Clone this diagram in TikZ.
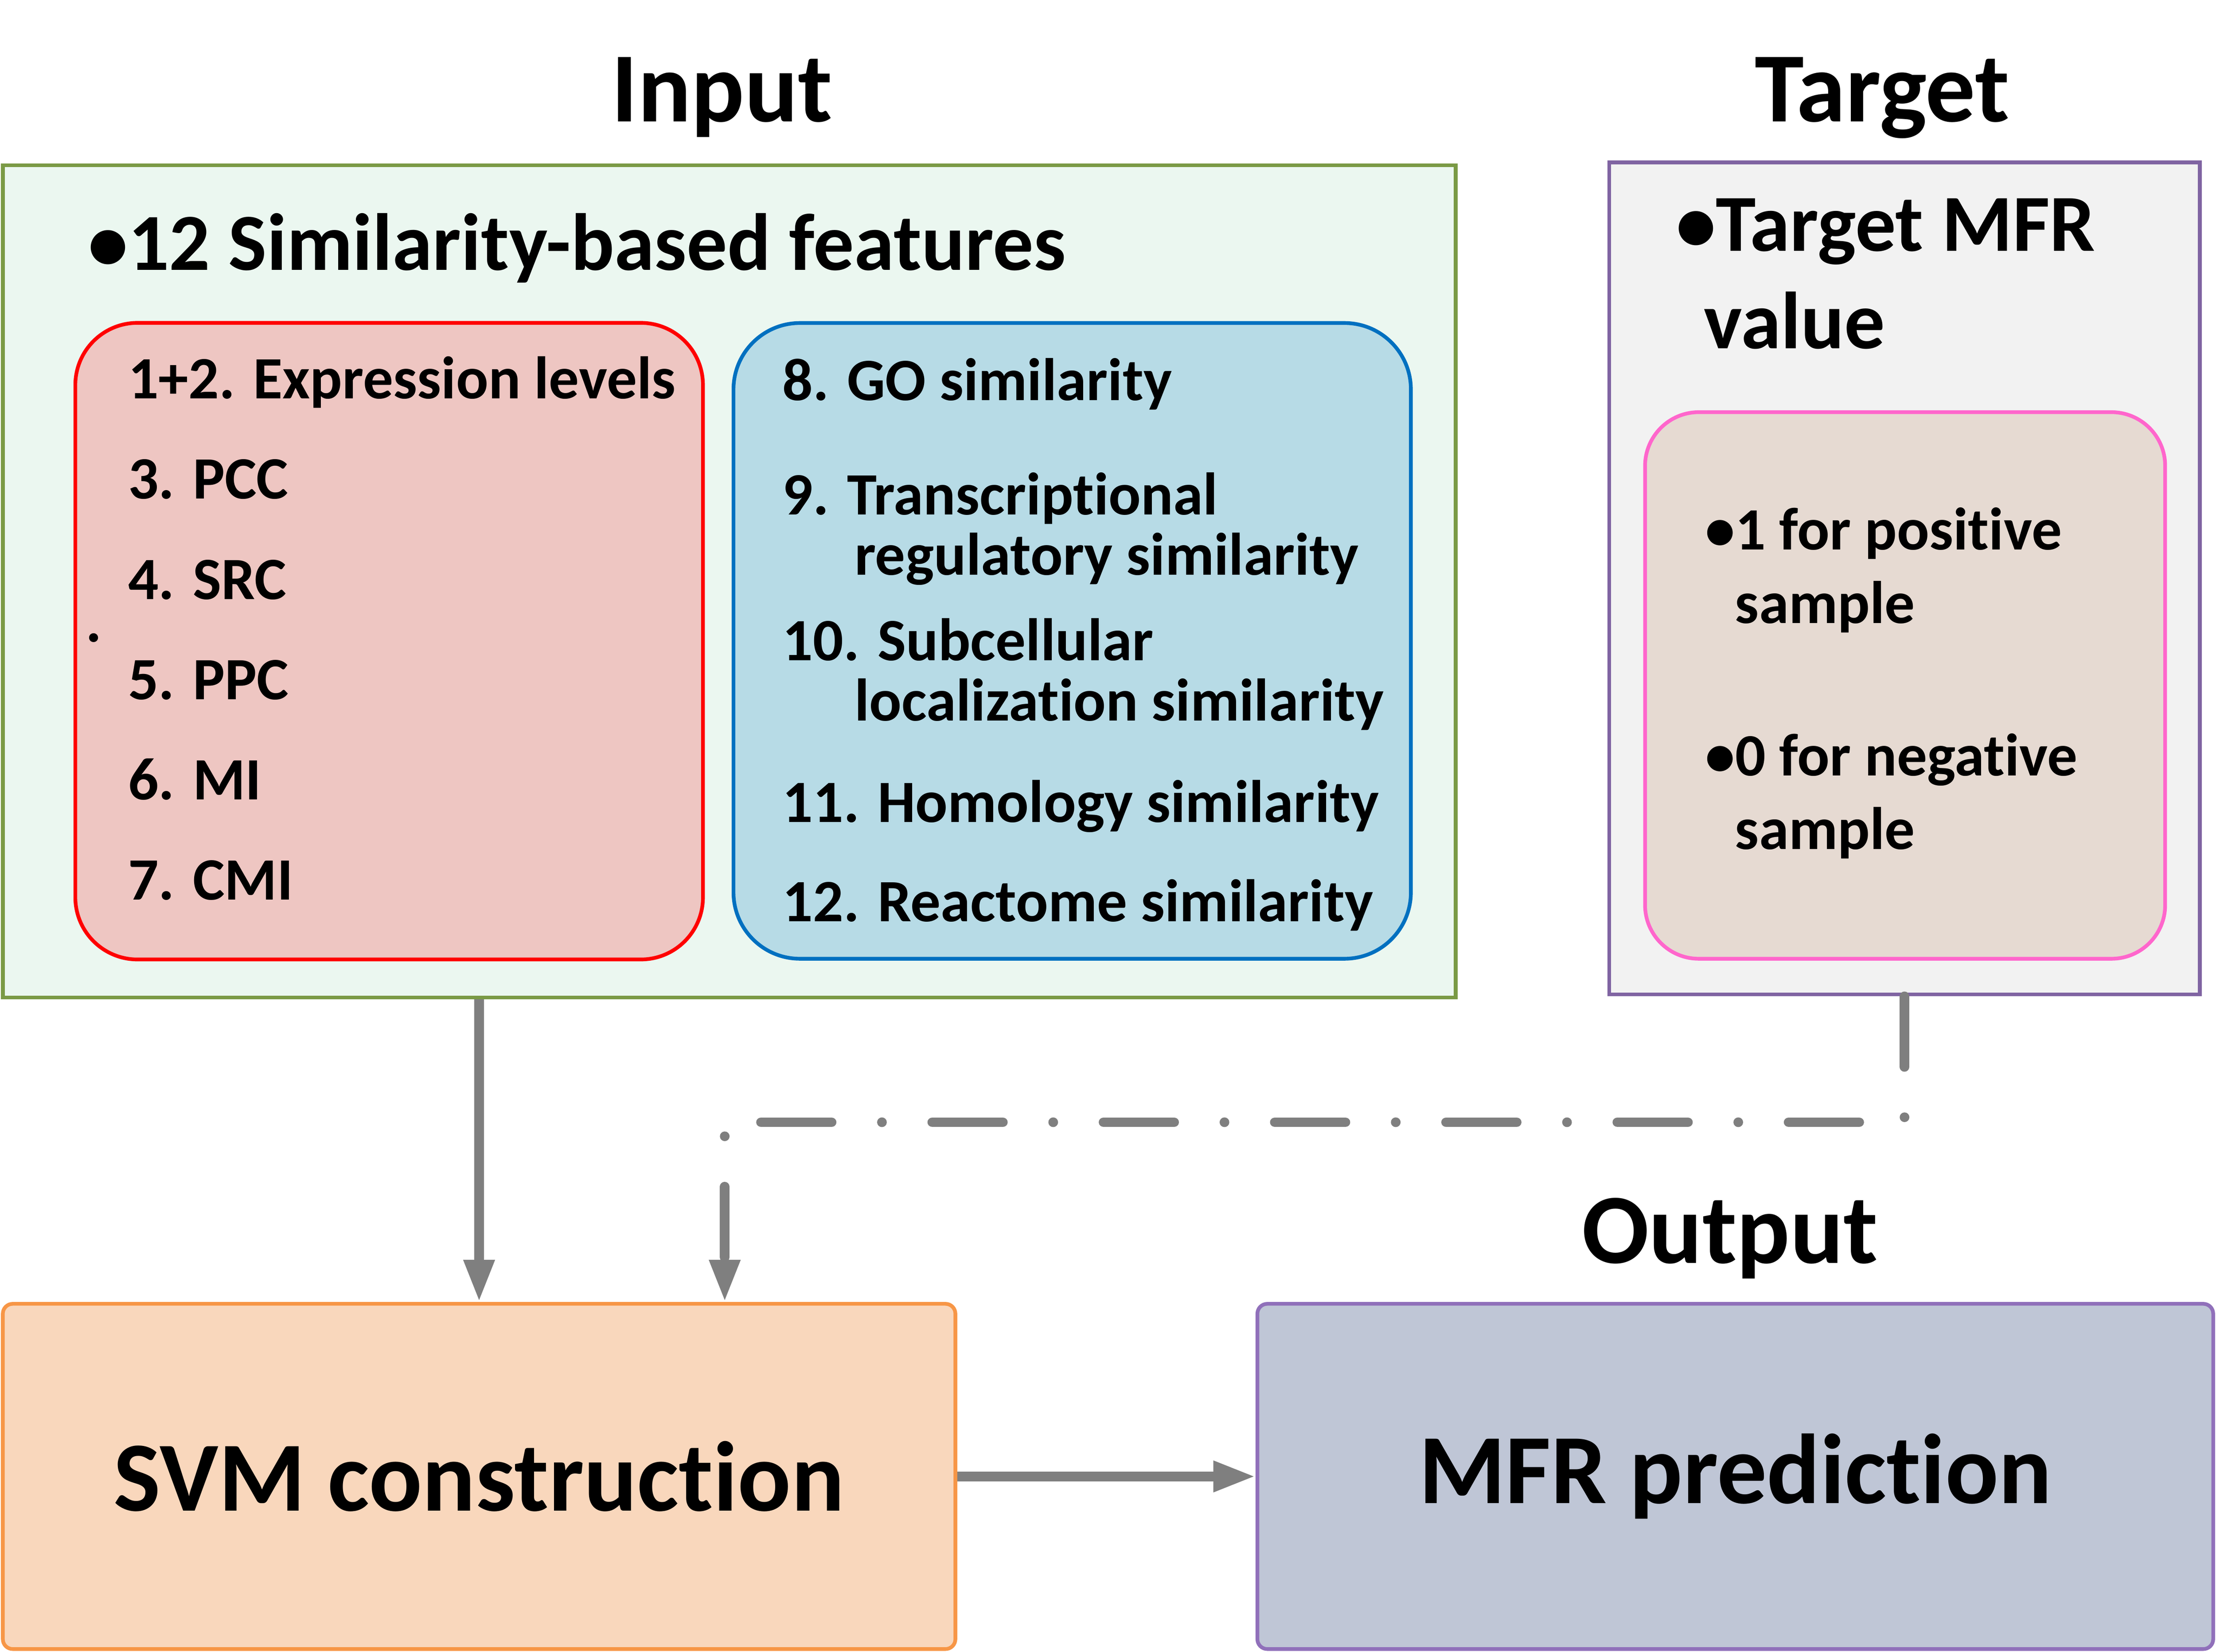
\documentclass[tikz,border=0pt]{standalone}
\usepackage{fontspec}
\setmainfont{Carlito}[Ligatures=NoCommon]
\usetikzlibrary{arrows.meta}

\definecolor{inFill}{HTML}{EBF7F0}
\definecolor{inLine}{HTML}{7A9A45}
\definecolor{exprFill}{HTML}{EEC6C2}
\definecolor{exprLine}{HTML}{FF0000}
\definecolor{simFill}{HTML}{B7DBE6}
\definecolor{simLine}{HTML}{0070C0}
\definecolor{tgFill}{HTML}{F2F2F2}
\definecolor{tgLine}{HTML}{8064A2}
\definecolor{lblFill}{HTML}{E6DAD2}
\definecolor{lblLine}{HTML}{FF66CC}
\definecolor{svmFill}{HTML}{F9D7BC}
\definecolor{svmLine}{HTML}{F79646}
\definecolor{mfrFill}{HTML}{BFC6D6}
\definecolor{mfrLine}{HTML}{9070BA}
\definecolor{arrGray}{HTML}{7F7F7F}

\begin{document}
\begin{tikzpicture}[
  box/.style={line width=0.75pt,inner sep=0pt,anchor=center},
  title/.style={font=\fontsize{20}{24}\selectfont\bfseries,anchor=base,inner sep=0pt},
  head/.style={font=\fontsize{16.3}{19.5}\selectfont\bfseries,anchor=base west,inner sep=0pt},
  item/.style={font=\fontsize{12.1}{14}\selectfont\bfseries,anchor=base west,inner sep=0pt},
  arr/.style={draw=arrGray,line width=1.95pt,-{Triangle[width=5.8pt,length=8.5pt]}},
  dashdot line/.style={arr,line cap=round,dash pattern=on 14.2pt off 10.14pt on 0pt off 10.14pt}
]
\useasboundingbox (0,0) rectangle (15.68,11.69);

% Input
\node[title] (inTitle) at (5.108,10.83) {Input};
\node[box,draw=inLine,fill=inFill,minimum width=10.28cm,minimum height=5.89cm] (input) at (5.16,7.575) {};
\node[head] (inHead) at (0.615,9.78) {•12 Similarity-based features};
\node[box,draw=exprLine,fill=exprFill,rounded corners=0.44cm,minimum width=4.441cm,minimum height=4.505cm] (expr) at (2.7535,7.1525) {};
\node[box,draw=simLine,fill=simFill,rounded corners=0.47cm,minimum width=4.793cm,minimum height=4.499cm] (sim) at (7.5865,7.1545) {};
\foreach \txt [count=\i] in {1+2. Expression levels,3. PCC,4. SRC,5. PPC,6. MI,7. CMI} {
  \node[item] (expr\i) at ({0.90},{8.868-0.709*(\i-1)}) {\txt};
}
\node[item] (stray) at (0.60,7.146) {.};
\node[item] (sim8) at (5.53,8.855) {8. GO similarity};
\node[item] (sim9) at (5.53,8.047) {9. Transcriptional};
\node[item] (sim9b) at (6.04,7.622) {regulatory similarity};
\node[item] (sim10) at (5.53,7.016) {10. Subcellular};
\node[item] (sim10b) at (6.04,6.59) {localization similarity};
\node[item] (sim11) at (5.53,5.87) {11. Homology similarity};
\node[item] (sim12) at (5.53,5.168) {12. Reactome similarity};

% Target
\node[title] (tgTitle) at (13.317,10.83) {Target};
\node[box,draw=tgLine,fill=tgFill,minimum width=4.178cm,minimum height=5.889cm] (target) at (13.476,7.5965) {};
\node[head] (tgHead) at (11.85,9.912) {•Target MFR};
\node[head] (tgHeadb) at (12.05,9.224) {value};
\node[box,draw=lblLine,fill=lblFill,rounded corners=0.38cm,minimum width=3.68cm,minimum height=3.868cm] (label) at (13.48,6.839) {};
\node[item] (pos) at (12.06,7.801) {•1 for positive};
\node[item] (posb) at (12.27,7.28) {sample};
\node[item] (neg) at (12.06,6.20) {•0 for negative};
\node[item] (negb) at (12.27,5.68) {sample};

% Output
\node[title] (outTitle) at (12.24,2.75) {Output};
\node[box,draw=svmLine,fill=svmFill,rounded corners=0.07cm,minimum width=6.74cm,minimum height=2.443cm,font=\fontsize{20}{24}\selectfont\bfseries] (svm) at (3.39,1.2415) {SVM construction};
\node[box,draw=mfrLine,fill=mfrFill,rounded corners=0.07cm,minimum width=6.763cm,minimum height=2.443cm,font=\fontsize{20}{24}\selectfont\bfseries] (mfr) at (12.2785,1.2415) {MFR prediction};

% connectors
\coordinate (bend) at (5.128,3.748);
\draw[arr] (input.south -| svm.north) -- (svm.north);
\draw[dashdot line] (target.south) |- (bend) -- (bend |- svm.north);
\draw[arr] (svm) -- (mfr);

\end{tikzpicture}
\end{document}
